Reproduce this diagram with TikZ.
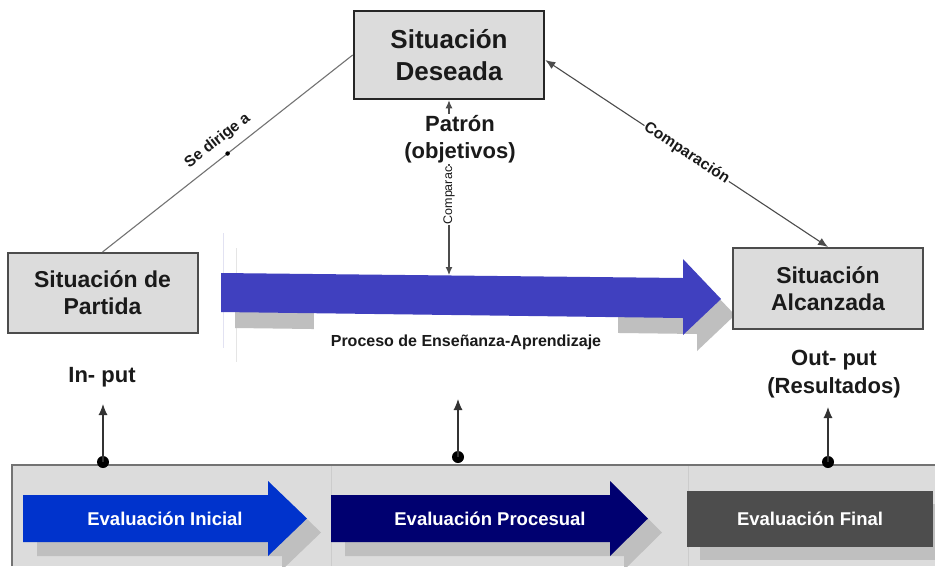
\documentclass[tikz,border=0pt]{standalone}
\usepackage{fontspec}
\setmainfont{Liberation Sans}
\usetikzlibrary{arrows.meta}
\definecolor{boxfill}{HTML}{DCDCDC}
\definecolor{procblue}{HTML}{4040BF}
\definecolor{inicblue}{HTML}{0033CC}
\definecolor{navyarr}{HTML}{000070}
\definecolor{finalgray}{HTML}{4D4D4D}
\definecolor{shadowgray}{HTML}{BFBFBF}
\definecolor{txt}{HTML}{1A1A1A}
\definecolor{faintline}{HTML}{E2E2F2}
\begin{document}
\begin{tikzpicture}[x=1pt,y=-1pt,
  sitbox/.style={draw=black!70, line width=2pt, fill=boxfill, align=center, text=txt,
    font=\bfseries\fontsize{23}{27}\selectfont, inner sep=0pt},
  conn/.style={draw=black!70, line width=1.1pt},
  tipend/.style={-{Latex[length=11pt,width=9pt]}},
  lbl/.style={font=\bfseries\fontsize{22}{27.5}\selectfont, text=txt, align=center},
  slopelbl/.style={font=\bfseries\fontsize{15.5}{17}\selectfont, text=txt, sloped},
  evtext/.style={text=white, font=\bfseries\fontsize{18.5}{22}\selectfont},
  dotn/.style={circle, fill=black, inner sep=0pt, minimum size=12pt},
  smalldot/.style={circle, fill=black, inner sep=0pt, minimum size=4.5pt}
]
\useasboundingbox (0,0) rectangle (935,566);
\fill[white] (0,0) rectangle (935,566);

% faint vertical lines
\draw[faintline, line width=1pt] (223,233) -- (223,348);
\draw[black!10, line width=1pt] (236,248) -- (236,362);

% process arrow shadow
\fill[shadowgray] (235,289) -- (697,294) -- (697,275) -- (735,315) -- (697,351) -- (697,334) -- (235,328) -- cycle;
% label covers middle of shadow
\node[fill=white, inner xsep=17pt, minimum height=64pt, font=\bfseries\fontsize{16}{19}\selectfont, text=txt]
  (proclbl) at (466,342) {Proceso de Enseñanza-Aprendizaje};
% process arrow
\fill[procblue] (221,273) -- (683,278) -- (683,259) -- (721,299) -- (683,335) -- (683,318) -- (221,312) -- cycle;

% boxes
\node[sitbox, line width=2.6pt, draw=black!85, minimum width=190pt, minimum height=88pt,
  font=\bfseries\fontsize{26}{32}\selectfont] (deseada) at (449,55) {Situación\\Deseada};
\node[sitbox, minimum width=190pt, minimum height=80pt] (partida) at (102.5,293) {Situación de\\Partida};
\node[sitbox, minimum width=190pt, minimum height=81pt] (alcanzada) at (828,288.5) {Situación\\Alcanzada};

% Se dirige a
\draw[conn, draw=black!55] (partida.north) -- node[smalldot, pos=.5] {} node[slopelbl, above=5pt, pos=.5] {Se dirige a} (deseada.west);

% Comparacion diagonal
\coordinate (dR) at ([yshift=-5pt]deseada.east);
\draw[conn, {Latex[length=10pt,width=8pt]}-{Latex[length=10pt,width=8pt]}] (dR) -- node[slopelbl, pos=.5, fill=white, inner sep=1pt] {Comparación} (alcanzada.north);

% vertical Comparac
\coordinate (pTop) at (449,275);
\draw[conn, {Latex[length=8pt,width=7pt]}-{Latex[length=8pt,width=7pt]}] (deseada.south) -- node[pos=.545, fill=white, rotate=90, inner sep=1pt, font=\fontsize{12.5}{14}\selectfont, text=txt] {Comparac} (pTop);
\node[lbl, fill=white, inner sep=1pt] (patron) at (460,139) {Patrón\\(objetivos)};

% In/Out labels
\node[lbl] (input) at (102,377) {In- put};
\node[lbl] (output) at (834,374) {Out- put\\(Resultados)};

% bottom band
\fill[boxfill] (12,465) rectangle (935,566);
\draw[black!20, line width=0.8pt] (331,466) -- (331,566);
\draw[black!20, line width=0.8pt] (688,466) -- (688,566);
\draw[black!55, line width=1.6pt] (12,566) -- (12,465) -- (935,465);

% Evaluacion Inicial
\fill[shadowgray] (37,509) -- (282,509) -- (282,495) -- (321,532.5) -- (282,570) -- (282,556) -- (37,556) -- cycle;
\fill[inicblue] (23,495) -- (268,495) -- (268,481) -- (307,518.5) -- (268,556) -- (268,542) -- (23,542) -- cycle;
\node[evtext] (evini) at (165,518.5) {Evaluación Inicial};

% Evaluacion Procesual
\fill[shadowgray] (345,509) -- (624,509) -- (624,495) -- (662,532.5) -- (624,570) -- (624,556) -- (345,556) -- cycle;
\fill[navyarr] (331,495) -- (610,495) -- (610,481) -- (648,518.5) -- (610,556) -- (610,542) -- (331,542) -- cycle;
\node[evtext] (evproc) at (490,518.5) {Evaluación Procesual};

% Evaluacion Final
\fill[shadowgray] (700,504) rectangle (935,560);
\fill[finalgray] (687,491) rectangle (933,547);
\node[evtext] (evfin) at (810,519) {Evaluación Final};

% dots and up arrows
\node[dotn] (d1) at (103,462) {};
\node[dotn] (d2) at (458,457) {};
\node[dotn] (d3) at (828,462) {};
\coordinate (a1) at (103,404);
\coordinate (a2) at (458,399);
\coordinate (a3) at (828,407);
\draw[conn, draw=black!80, tipend] (d1.center) -- (a1);
\draw[conn, draw=black!80, tipend] (d2.center) -- (a2);
\draw[conn, draw=black!80, tipend] (d3.center) -- (a3);
\end{tikzpicture}
\end{document}
